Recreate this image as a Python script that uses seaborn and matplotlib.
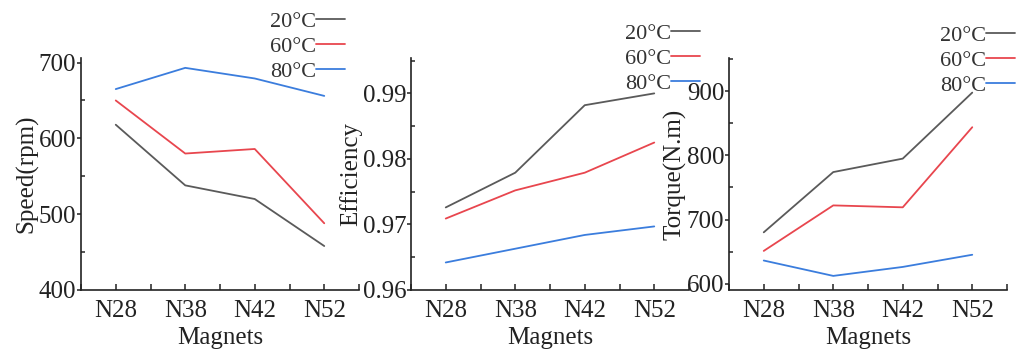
import matplotlib
matplotlib.use('Agg')
import matplotlib.pyplot as plt
import seaborn as sns
from matplotlib.ticker import MultipleLocator, AutoMinorLocator

sns.set_style('ticks')
plt.rcParams['font.family'] = ['Liberation Serif', 'DejaVu Serif']

# data
magnets = ['N28', 'N38', 'N42', 'N52']
temps = ['20°C', '60°C', '80°C']
colors = ['#5a5a5a', '#e8464e', '#3b7ddd']

speed_20 = [618, 538, 520, 458]
speed_60 = [650, 580, 586, 488]
speed_80 = [665, 693, 679, 656]

eff_20 = [0.9726, 0.9779, 0.9882, 0.9900]
eff_60 = [0.9709, 0.9752, 0.9779, 0.9825]
eff_80 = [0.9642, 0.9663, 0.9684, 0.9697]

torque_20 = [680, 774, 795, 898]
torque_60 = [651, 722, 719, 844]
torque_80 = [636, 612, 626, 645]

panels = [
    ([speed_20, speed_60, speed_80], 'Speed(rpm)', (400, 706), [400, 500, 600, 700], (0.95, 1.20)),
    ([eff_20, eff_60, eff_80], 'Efficiency', (0.96, 0.9954), [0.96, 0.97, 0.98, 0.99], (1.04, 1.15)),
    ([torque_20, torque_60, torque_80], 'Torque(N.m)', (590, 952), [600, 700, 800, 900], (1.03, 1.14)),
]
lefts = [81, 411, 729]

fig = plt.figure(figsize=(10.19, 3.5), dpi=100)
W, H = 1019, 350
for (series, ylab, ylim, yticks, anchor), left in zip(panels, lefts):
    ax = fig.add_axes([left / W, 1 - 290 / H, 278 / W, (290 - 58) / H])
    for vals, t, c in zip(series, temps, colors):
        sns.lineplot(x=magnets, y=vals, color=c, label=t, linewidth=1.3, ax=ax)
    ax.set_xlim(-0.5, 3.5)
    ax.set_ylim(*ylim)
    ax.set_yticks(yticks)
    ax.yaxis.set_minor_locator(AutoMinorLocator(2))
    ax.xaxis.set_minor_locator(MultipleLocator(0.5))
    sns.despine(ax=ax)
    for s in ['left', 'bottom']:
        ax.spines[s].set_linewidth(1.2)
        ax.spines[s].set_color('#222222')
    ax.tick_params(axis='x', which='both', direction='in', length=4, width=1.1,
                   pad=7, labelsize=18, colors='#222222')
    ax.tick_params(axis='y', which='major', direction='out', length=3, width=1.1,
                   pad=0.5, labelsize=18, colors='#222222')
    ax.tick_params(axis='y', which='minor', direction='in', length=3, width=1.1)
    ax.set_xlabel('Magnets', fontsize=18, labelpad=4, color='#222222')
    ax.set_ylabel(ylab, fontsize=18, labelpad=0, color='#222222')
    leg = ax.legend(loc='upper right', bbox_to_anchor=anchor, frameon=False,
                    markerfirst=False, fontsize=16, handlelength=1.3,
                    handletextpad=0.0, labelspacing=0.2, borderpad=0,
                    borderaxespad=0)
    for txt in leg.get_texts():
        txt.set_color('#333333')

plt.savefig('out.png', dpi=100)
